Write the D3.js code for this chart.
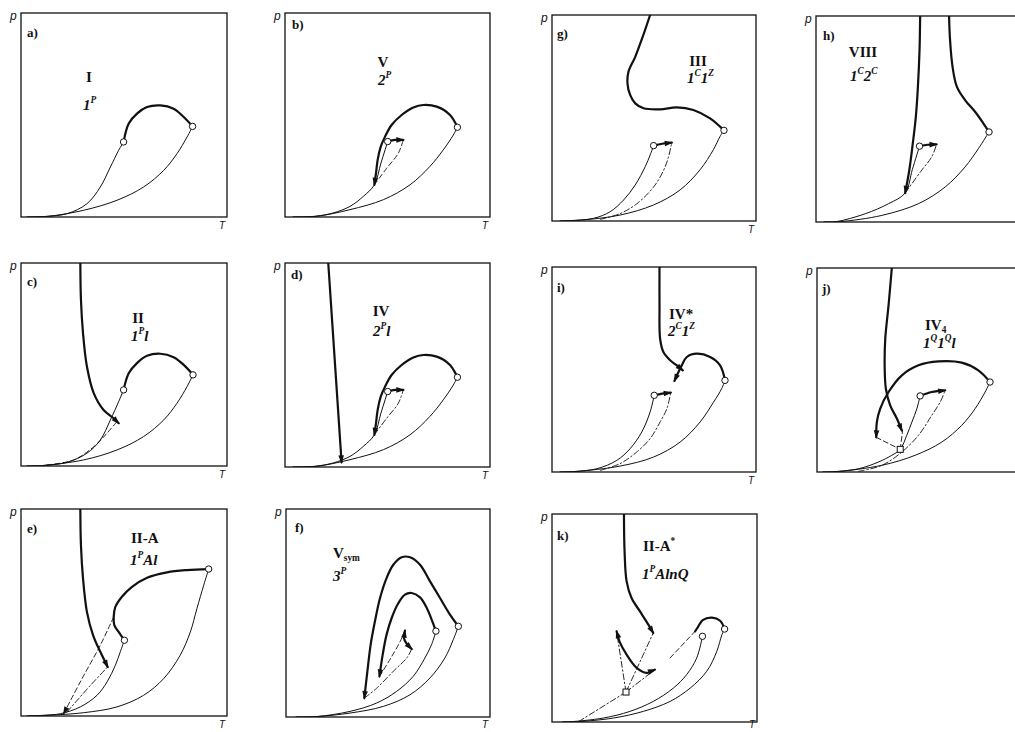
<!DOCTYPE html>
<html><head><meta charset="utf-8">
<script src="https://cdn.jsdelivr.net/npm/d3@7"></script>
<style>body{margin:0;background:#fff}</style>
</head><body>
<svg id="fig" width="1015" height="732"></svg>
<script>
// Reduced coordinates: [T, p], both 0..1 inside each panel frame.

// a) type I
const a_vp1 = [[0.03,0],[0.12,0.003],[0.223,0.016],[0.320,0.065],[0.385,0.147],[0.434,0.245],[0.474,0.327],[0.498,0.368]];
const a_vp2 = [[0.03,0],[0.12,0.002],[0.304,0.033],[0.466,0.082],[0.595,0.147],[0.693,0.229],[0.757,0.310],[0.806,0.392],[0.833,0.444]];
const a_crit = [[0.498,0.368],[0.523,0.458],[0.563,0.507],[0.612,0.539],[0.676,0.547],[0.741,0.531],[0.790,0.490],[0.833,0.444]];

// b) type V (also the fluid part of d)
const b_vp1 = [[0.04,0],[0.15,0.004],[0.236,0.020],[0.317,0.052],[0.382,0.101],[0.436,0.158],[0.468,0.264],[0.501,0.370]];
const b_vp2 = [[0.04,0],[0.15,0.003],[0.317,0.036],[0.480,0.085],[0.610,0.158],[0.707,0.248],[0.772,0.329],[0.821,0.402],[0.841,0.440]];
const b_crit = [[0.436,0.158],[0.444,0.215],[0.452,0.280],[0.467,0.345],[0.488,0.394],[0.520,0.451],[0.569,0.500],[0.626,0.537],[0.675,0.549],[0.740,0.541],[0.805,0.500],[0.841,0.440]];
const b_cep = [[0.501,0.370],[0.537,0.378],[0.577,0.378]];
const b_llv = [[0.436,0.158],[0.496,0.239],[0.553,0.313],[0.577,0.378]];
// d) extra solid-fluid line
const d_slv = [[0.211,1.0],[0.276,0.023]];

// g) type III
const g_vp1 = [[0.04,0],[0.090,0.002],[0.204,0.013],[0.285,0.045],[0.351,0.102],[0.408,0.175],[0.457,0.264],[0.481,0.320],[0.498,0.366]];
const g_vp2 = [[0.04,0],[0.15,0.005],[0.334,0.029],[0.498,0.078],[0.628,0.151],[0.726,0.249],[0.791,0.346],[0.824,0.411],[0.843,0.440]];
const g_llv = [[0.237,0.008],[0.334,0.036],[0.416,0.084],[0.498,0.165],[0.547,0.246],[0.571,0.311],[0.587,0.380]];
const g_cep = [[0.498,0.366],[0.540,0.375],[0.587,0.380]];
const g_crit = [[0.481,1.0],[0.445,0.895],[0.408,0.797],[0.375,0.725],[0.370,0.668],[0.383,0.612],[0.408,0.571],[0.449,0.547],[0.530,0.542],[0.612,0.552],[0.693,0.539],[0.775,0.498],[0.843,0.440]];

// h) type VIII
const h_vp1 = [[0.04,0],[0.10,0.002],[0.240,0.040],[0.354,0.089],[0.435,0.141],[0.470,0.255],[0.505,0.368]];
const h_vp2 = [[0.04,0],[0.12,0.002],[0.321,0.032],[0.500,0.089],[0.630,0.170],[0.727,0.267],[0.792,0.356],[0.844,0.437]];
const h_critL = [[0.508,1.0],[0.505,0.833],[0.497,0.655],[0.487,0.510],[0.472,0.380],[0.455,0.251],[0.435,0.141]];
const h_critR = [[0.649,1.0],[0.654,0.882],[0.666,0.754],[0.687,0.657],[0.727,0.592],[0.776,0.535],[0.817,0.478],[0.844,0.437]];
const h_cep = [[0.505,0.368],[0.545,0.375],[0.588,0.377]];
const h_llv = [[0.435,0.141],[0.516,0.252],[0.565,0.317],[0.588,0.377]];

// c) type II
const c_vp1 = [[0.03,0],[0.10,0.002],[0.223,0.018],[0.320,0.063],[0.385,0.128],[0.434,0.227],[0.474,0.317],[0.498,0.375]];
const c_llv = [[0.126,0.005],[0.256,0.030],[0.353,0.095],[0.417,0.161],[0.466,0.219]];
const c_vp2 = [[0.03,0],[0.10,0.002],[0.304,0.030],[0.466,0.079],[0.595,0.145],[0.693,0.227],[0.757,0.309],[0.806,0.391],[0.835,0.449]];
const c_crit = [[0.498,0.375],[0.523,0.457],[0.563,0.507],[0.612,0.543],[0.676,0.553],[0.741,0.536],[0.790,0.498],[0.835,0.449]];
const c_critL = [[0.288,1.0],[0.291,0.819],[0.301,0.655],[0.320,0.490],[0.353,0.359],[0.401,0.276],[0.450,0.235],[0.474,0.211]];

// i) type IV*
const i_vp1 = [[0.04,0],[0.090,0.001],[0.220,0.016],[0.318,0.057],[0.383,0.114],[0.440,0.195],[0.481,0.293],[0.501,0.374]];
const i_llv = [[0.237,0.008],[0.334,0.041],[0.416,0.098],[0.481,0.163],[0.530,0.244],[0.563,0.309],[0.582,0.387]];
const i_vp2 = [[0.04,0],[0.12,0.003],[0.334,0.029],[0.498,0.073],[0.628,0.146],[0.726,0.244],[0.792,0.341],[0.832,0.407],[0.848,0.447]];
const i_cep = [[0.501,0.374],[0.540,0.382],[0.582,0.387]];
const i_critTop = [[0.527,1.0],[0.527,0.813],[0.530,0.650],[0.546,0.585],[0.579,0.545],[0.612,0.520],[0.641,0.496]];
const i_critLoop = [[0.848,0.447],[0.824,0.520],[0.775,0.561],[0.710,0.577],[0.661,0.561],[0.636,0.520],[0.620,0.488],[0.600,0.444]];

// j) type IV4
const j_vp1 = [[0.03,0],[0.073,0.001],[0.203,0.016],[0.300,0.049],[0.365,0.082],[0.406,0.111],[0.438,0.180],[0.463,0.245],[0.487,0.310],[0.503,0.373]];
const j_vp2 = [[0.03,0],[0.10,0.002],[0.317,0.033],[0.479,0.082],[0.609,0.147],[0.706,0.229],[0.771,0.310],[0.820,0.392],[0.844,0.441]];
const j_llv = [[0.203,0.003],[0.317,0.033],[0.414,0.098],[0.495,0.180],[0.560,0.278],[0.601,0.343],[0.625,0.400]];
const j_cep = [[0.503,0.373],[0.560,0.392],[0.625,0.400]];
const j_critTop = [[0.365,1.0],[0.349,0.817],[0.333,0.654],[0.330,0.523],[0.336,0.408],[0.357,0.327],[0.390,0.261],[0.414,0.203]];
const j_critArc = [[0.844,0.441],[0.787,0.498],[0.706,0.536],[0.593,0.542],[0.495,0.523],[0.414,0.474],[0.349,0.392],[0.308,0.310],[0.292,0.245],[0.289,0.170]];
const j_tie1 = [[0.289,0.170],[0.406,0.111]];
const j_tie2 = [[0.406,0.111],[0.417,0.198]];
const j_quad = [[0.406,0.111]];

// e) type II-A
const e_vp1 = [[0.03,0],[0.12,0.004],[0.191,0.011],[0.288,0.044],[0.369,0.100],[0.418,0.165],[0.458,0.245],[0.482,0.310],[0.502,0.366]];
const e_vp2 = [[0.03,0],[0.12,0.003],[0.304,0.016],[0.466,0.044],[0.595,0.100],[0.693,0.181],[0.773,0.294],[0.822,0.406],[0.854,0.519],[0.887,0.632],[0.911,0.710]];
const e_crit = [[0.502,0.366],[0.474,0.406],[0.453,0.439],[0.450,0.479],[0.458,0.527],[0.490,0.576],[0.539,0.624],[0.612,0.668],[0.709,0.694],[0.806,0.705],[0.911,0.710]];
const e_critL = [[0.288,1.0],[0.291,0.826],[0.301,0.665],[0.320,0.503],[0.350,0.390],[0.385,0.310],[0.421,0.237]];
const e_llv1 = [[0.207,0.011],[0.290,0.169],[0.385,0.342],[0.450,0.479]];
const e_llv2 = [[0.223,0.019],[0.337,0.148],[0.421,0.237]];

// f) type V_sym
const f_vpA = [[0.05,0],[0.150,0.002],[0.314,0.019],[0.477,0.051],[0.608,0.107],[0.706,0.188],[0.779,0.284],[0.820,0.372],[0.845,0.436]];
const f_vpB = [[0.05,0],[0.150,0.002],[0.314,0.027],[0.444,0.067],[0.542,0.123],[0.624,0.196],[0.681,0.284],[0.714,0.349],[0.735,0.413]];
const f_critA = [[0.845,0.436],[0.804,0.492],[0.755,0.572],[0.706,0.652],[0.657,0.732],[0.608,0.768],[0.567,0.768],[0.526,0.732],[0.493,0.668],[0.461,0.572],[0.436,0.460],[0.415,0.348],[0.399,0.220],[0.384,0.091]];
const f_critB = [[0.735,0.412],[0.714,0.468],[0.690,0.524],[0.657,0.575],[0.616,0.596],[0.583,0.588],[0.551,0.548],[0.518,0.476],[0.493,0.396],[0.474,0.300],[0.458,0.195]];
const f_cep = [[0.583,0.415],[0.578,0.380],[0.592,0.351],[0.616,0.327]];
const f_llvB = [[0.458,0.195],[0.513,0.282],[0.560,0.364],[0.583,0.415]];
const f_llvA = [[0.384,0.091],[0.444,0.138],[0.526,0.220],[0.592,0.284],[0.616,0.327]];

// k) type II-A*
const k_vp1 = [[0.05,0],[0.086,0.001],[0.250,0.019],[0.380,0.051],[0.494,0.099],[0.592,0.163],[0.657,0.228],[0.706,0.308],[0.734,0.412]];
const k_vp2 = [[0.05,0],[0.119,0.001],[0.299,0.019],[0.445,0.051],[0.576,0.099],[0.674,0.163],[0.755,0.244],[0.804,0.340],[0.829,0.420],[0.842,0.447]];
const k_crit = [[0.842,0.447],[0.820,0.487],[0.780,0.502],[0.735,0.490],[0.711,0.455],[0.698,0.436]];
const k_dash = [[0.576,0.308],[0.698,0.436]];
const k_critTop = [[0.351,1.0],[0.354,0.821],[0.364,0.676],[0.388,0.596],[0.429,0.532],[0.470,0.468],[0.494,0.428]];
const k_critMid = [[0.315,0.436],[0.330,0.385],[0.364,0.324],[0.413,0.260],[0.462,0.236],[0.502,0.252]];
const k_tie1 = [[0.361,0.144],[0.315,0.436]];
const k_tie2 = [[0.361,0.144],[0.494,0.428]];
const k_tie3 = [[0.361,0.144],[0.502,0.252]];
const k_tie4 = [[0.130,0.002],[0.361,0.144]];
const k_quad = [[0.361,0.144]];

// Panel layout: frame [left, top, right, bottom] in px and the drawn content.
const panels = [
  {id:"a)", frame:[21,13,227,217], lid:[27,37],
   title:{x:89,y:82,anchor:"middle",parts:[["I"]]},
   formula:{x:83,y:110,parts:[["1"],["P","sup"]]},
   curves:[{d:a_vp1,s:"thin"},{d:a_vp2,s:"thin"},{d:a_crit,s:"thick"}],
   circles:[a_vp1,a_vp2]},
  {id:"b)", frame:[285,13,490,217], lid:[292,29],
   title:{x:383,y:67,anchor:"middle",parts:[["V"]]},
   formula:{x:378,y:85,parts:[["2"],["P","sup"]]},
   curves:[{d:b_vp1,s:"thin"},{d:b_vp2,s:"thin"},{d:b_crit,s:"thick",a0:true},
           {d:b_cep,s:"thick",a1:true},{d:b_llv,s:"dash"}],
   circles:[b_vp1,b_vp2]},
  {id:"g)", frame:[552,15,756,221], lid:[557,38],
   title:{x:698,y:66,anchor:"middle",parts:[["III"]]},
   formula:{x:687,y:83,parts:[["1"],["C","sup"],["1"],["Z","sup"]]},
   curves:[{d:g_vp1,s:"thin"},{d:g_vp2,s:"thin"},{d:g_llv,s:"dashdot"},
           {d:g_cep,s:"thick",a1:true},{d:g_crit,s:"thick"}],
   circles:[g_vp1,g_vp2]},
  {id:"h)", frame:[816,16,1021,222], lid:[823,40],
   title:{x:863,y:57,anchor:"middle",parts:[["VIII"]]},
   formula:{x:850,y:81,parts:[["1"],["C","sup"],["2"],["C","sup"]]},
   curves:[{d:h_vp1,s:"thin"},{d:h_vp2,s:"thin"},{d:h_critL,s:"thick",a1:true},
           {d:h_critR,s:"thick"},{d:h_cep,s:"thick",a1:true},{d:h_llv,s:"dashdot"}],
   circles:[h_vp1,h_vp2]},
  {id:"c)", frame:[21,263,227,466], lid:[27,286],
   title:{x:138,y:323,anchor:"middle",parts:[["II"]]},
   formula:{x:131,y:341,parts:[["1"],["P","sup"],["l"]]},
   curves:[{d:c_vp1,s:"thin"},{d:c_vp2,s:"thin"},{d:c_llv,s:"dash"},
           {d:c_crit,s:"thick"},{d:c_critL,s:"thick",a1:true}],
   circles:[c_vp1,c_vp2]},
  {id:"d)", frame:[285,263,490,467], lid:[291,279],
   title:{x:381,y:316,anchor:"middle",parts:[["IV"]]},
   formula:{x:373,y:336,parts:[["2"],["P","sup"],["l"]]},
   curves:[{d:b_vp1,s:"thin"},{d:b_vp2,s:"thin"},{d:b_crit,s:"thick",a0:true},
           {d:b_cep,s:"thick",a1:true},{d:b_llv,s:"dashdot"},{d:d_slv,s:"thick",a1:true}],
   circles:[b_vp1,b_vp2]},
  {id:"i)", frame:[552,267,756,472], lid:[557,292],
   title:{x:669,y:319,anchor:"start",parts:[["IV*"]]},
   formula:{x:668,y:336,parts:[["2"],["C","sup"],["1"],["Z","sup"]]},
   curves:[{d:i_vp1,s:"thin"},{d:i_vp2,s:"thin"},{d:i_llv,s:"dashdot"},
           {d:i_cep,s:"thick",a1:true},{d:i_critTop,s:"thick",a1:true},{d:i_critLoop,s:"thick",a1:true}],
   circles:[i_vp1,i_vp2]},
  {id:"j)", frame:[817,268,1022,472], lid:[822,293],
   title:{x:925,y:330,anchor:"start",parts:[["IV"],["4","sub"]]},
   formula:{x:923,y:348,parts:[["1"],["Q","sup"],["1"],["Q","sup"],["l"]]},
   curves:[{d:j_vp1,s:"thin"},{d:j_vp2,s:"thin"},{d:j_llv,s:"dashdot"},
           {d:j_cep,s:"thick",a1:true},{d:j_critTop,s:"thick",a1:true},{d:j_critArc,s:"thick",a1:true},
           {d:j_tie1,s:"dash"},{d:j_tie2,s:"dash"}],
   circles:[j_vp1,j_vp2], squares:j_quad},
  {id:"e)", frame:[21,509,227,716], lid:[27,533],
   title:{x:131,y:543,anchor:"start",parts:[["II-A"]]},
   formula:{x:130,y:565,parts:[["1"],["P","sup"],["Al"]]},
   curves:[{d:e_vp1,s:"thin"},{d:e_vp2,s:"thin"},{d:e_crit,s:"thick"},
           {d:e_critL,s:"thick",a1:true},{d:e_llv1,s:"dash",a0:true},{d:e_llv2,s:"dashdot"}],
   circles:[e_vp1,e_vp2]},
  {id:"f)", frame:[286,509,490,717], lid:[295,532],
   title:{x:333,y:558,anchor:"start",parts:[["V"],["sym","sub"]]},
   formula:{x:333,y:581,parts:[["3"],["P","sup"]]},
   curves:[{d:f_vpA,s:"thin"},{d:f_vpB,s:"thin"},{d:f_critA,s:"thick",a1:true},
           {d:f_critB,s:"thick",a1:true},{d:f_cep,s:"thick",a0:true,a1:true},
           {d:f_llvB,s:"dash"},{d:f_llvA,s:"dashdot"}],
   circles:[f_vpA,f_vpB]},
  {id:"k)", frame:[552,514,757,722], lid:[557,540],
   title:{x:643,y:551,anchor:"start",parts:[["II-A"],["*","sup"]]},
   formula:{x:642,y:579,parts:[["1"],["P","sup"],["AlnQ"]]},
   curves:[{d:k_vp1,s:"thin"},{d:k_vp2,s:"thin"},{d:k_crit,s:"thick"},{d:k_dash,s:"dash"},
           {d:k_critTop,s:"thick",a1:true},{d:k_critMid,s:"thick",a0:true,a1:true},
           {d:k_tie1,s:"dashdot"},{d:k_tie2,s:"dashdot"},{d:k_tie3,s:"dashdot"},{d:k_tie4,s:"dashdot"}],
   circles:[k_vp1,k_vp2], squares:k_quad}
];

const INK = "#111";
const STYLE = {
  thin:    {w:1.0, dash:null},
  thick:   {w:2.2, dash:null},
  dash:    {w:0.9, dash:"5,3"},
  dashdot: {w:0.9, dash:"6,2.5,1.5,2.5"}
};
const PAGE_W = 1015, PAGE_H = 732;

const svg = d3.select("#fig");
svg.append("rect").attr("width",PAGE_W).attr("height",PAGE_H).attr("fill","#fff");

function arrowHead(g, tip, from) {
  const dx = tip[0]-from[0], dy = tip[1]-from[1], L = Math.hypot(dx,dy) || 1;
  const ux = dx/L, uy = dy/L, px = -uy, py = ux;
  const len = 7, w = 2.8;
  const t = [tip[0]+ux*1.5, tip[1]+uy*1.5];
  const b = [tip[0]-ux*len, tip[1]-uy*len];
  g.append("path")
    .attr("d", `M${t[0]},${t[1]}L${b[0]+px*w},${b[1]+py*w}L${b[0]-px*w},${b[1]-py*w}Z`)
    .attr("fill", INK);
}

function drawText(g, spec, size, italic, anchor) {
  const t = g.append("text")
    .attr("x", spec.x).attr("y", spec.y)
    .attr("font-family", "'Liberation Serif','Times New Roman',serif")
    .attr("font-weight", "bold")
    .attr("font-style", italic ? "italic" : "normal")
    .attr("font-size", size)
    .attr("text-anchor", anchor || "start")
    .attr("fill", INK);
  let shift = 0;
  spec.parts.forEach(([txt, kind]) => {
    const target = kind === "sup" ? -7 : kind === "sub" ? 3 : 0;
    const ts = t.append("tspan").text(txt).attr("dy", target - shift);
    if (kind) ts.attr("font-size", size*0.62);
    shift = target;
  });
}

panels.forEach(p => {
  const [L, T, R, B] = p.frame;
  const x = d3.scaleLinear().domain([0,1]).range([L, R]);
  const y = d3.scaleLinear().domain([0,1]).range([B, T]);
  const g = svg.append("g");
  const clipId = "clip" + p.id.replace(")","");
  g.append("clipPath").attr("id", clipId)
    .append("rect").attr("x", L).attr("y", T).attr("width", R-L).attr("height", B-T);

  const line = d3.line().x(d => x(d[0])).y(d => y(d[1])).curve(d3.curveCatmullRom.alpha(0.5));
  const plot = g.append("g").attr("clip-path", `url(#${clipId})`);

  p.curves.forEach(c => {
    const st = STYLE[c.s];
    plot.append("path").attr("d", line(c.d))
      .attr("fill","none").attr("stroke", INK)
      .attr("stroke-width", st.w)
      .attr("stroke-dasharray", st.dash)
      .attr("stroke-linecap","round").attr("stroke-linejoin","round");
    const px = c.d.map(d => [x(d[0]), y(d[1])]);
    if (c.a1) arrowHead(plot, px[px.length-1], px[px.length-2]);
    if (c.a0) arrowHead(plot, px[0], px[1]);
  });

  (p.squares || []).forEach(d => {
    plot.append("rect").attr("x", x(d[0])-3).attr("y", y(d[1])-3)
      .attr("width",6).attr("height",6)
      .attr("fill","#fff").attr("stroke",INK).attr("stroke-width",1);
  });
  p.circles.forEach(arr => {
    const d = arr[arr.length-1];
    plot.append("circle").attr("cx", x(d[0])).attr("cy", y(d[1])).attr("r", 3.2)
      .attr("fill","#fff").attr("stroke",INK).attr("stroke-width",1);
  });

  // frame
  g.append("rect").attr("x", L).attr("y", T).attr("width", R-L).attr("height", B-T)
    .attr("fill","none").attr("stroke", INK).attr("stroke-width", 1.3);

  // axis names (T only where it falls on the page)
  g.append("text").attr("x", L-11).attr("y", T+7).text("p")
    .attr("font-family","'Liberation Sans',Arial,sans-serif").attr("font-style","italic")
    .attr("font-size",12).attr("fill",INK);
  if (R + 4 < PAGE_W) {
    g.append("text").attr("x", R-8).attr("y", Math.min(B+12, PAGE_H-4)).text("T")
      .attr("font-family","'Liberation Sans',Arial,sans-serif").attr("font-style","italic")
      .attr("font-size",10).attr("fill",INK);
  }

  // panel letter, type, notation
  g.append("text").attr("x", p.lid[0]).attr("y", p.lid[1]).text(p.id)
    .attr("font-family","'Liberation Serif','Times New Roman',serif").attr("font-weight","bold")
    .attr("font-size",13).attr("fill",INK);
  drawText(g, p.title, 15, false, p.title.anchor);
  drawText(g, p.formula, 15, true, "start");
});
</script>
</body></html>
